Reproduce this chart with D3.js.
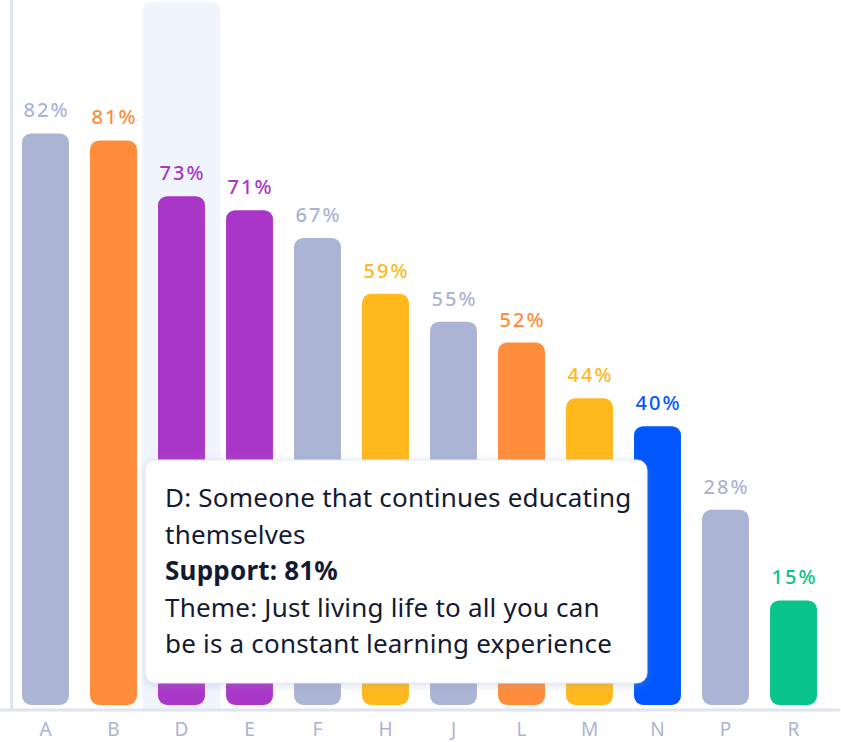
<!DOCTYPE html>
<html>
<head>
<meta charset="utf-8">
<script src="https://cdn.jsdelivr.net/npm/d3@7"></script>
<style>
  body { margin: 0; background: #fff; }
  svg { display: block; font-family: "Noto Sans", "Open Sans", sans-serif; }
</style>
</head>
<body>
<div id="chart"></div>
<script>
// categories, values and colour groups
const categories = ["A", "B", "D", "E", "F", "H", "J", "L", "M", "N", "P", "R"];
const values = [82, 81, 73, 71, 67, 59, 55, 52, 44, 40, 28, 15];
const groups = ["grey", "orange", "purple", "purple", "grey", "yellow", "grey", "orange", "yellow", "blue", "grey", "green"];
const highlighted = "D";
const tooltipLines = [
    { text: "D: Someone that continues educating", bold: false },
    { text: "themselves", bold: false },
    { text: "Support: 81%", bold: true },
    { text: "Theme: Just living life to all you can", bold: false },
    { text: "be is a constant learning experience", bold: false }
];

const data = categories.map((c, i) => ({ cat: c, value: values[i], group: groups[i] }));

const palette = {
    grey: "#abb4d4",
    orange: "#ff8c3b",
    purple: "#aa36c8",
    yellow: "#ffb91d",
    blue: "#0057ff",
    green: "#08c38b"
};

const w = 841;
const h = 742;
const baseY = 710;

const svg = d3.select("#chart")
    .append("svg")
    .attr("width", w)
    .attr("height", h);

// Scales
const x = d3.scaleBand()
    .domain(categories)
    .range([11.5, 827.5])
    .paddingInner(0.31)
    .paddingOuter(0.155);

const y = d3.scaleLinear()
    .domain([0, 100])
    .range([705, 8]);

// highlight column behind the hovered bar
const hx = x(highlighted) + x.bandwidth() / 2;
svg.append("path")
    .attr("d", () => {
        const x0 = hx - 39, x1 = hx + 39, y0 = 2, r = 10;
        return `M${x0},${baseY} V${y0 + r} Q${x0},${y0} ${x0 + r},${y0} H${x1 - r} Q${x1},${y0} ${x1},${y0 + r} V${baseY} Z`;
    })
    .attr("fill", "#f0f4fd");

// axis lines
svg.append("line")
    .attr("x1", 11.5).attr("x2", 11.5)
    .attr("y1", 0).attr("y2", baseY)
    .attr("stroke", "#dfe4f0")
    .attr("stroke-width", 3);

// Bars
svg.selectAll("rect.bar")
    .data(data)
    .enter()
    .append("rect")
    .attr("class", "bar")
    .attr("x", d => x(d.cat))
    .attr("y", d => y(d.value))
    .attr("width", x.bandwidth())
    .attr("height", d => y(0) - y(d.value))
    .attr("rx", 9)
    .attr("fill", d => palette[d.group]);

svg.append("line")
    .attr("x1", 0).attr("x2", 839)
    .attr("y1", baseY).attr("y2", baseY)
    .attr("stroke", "#dfe4f0")
    .attr("stroke-width", 3)
    .attr("stroke-linecap", "round");

// Value labels
svg.selectAll("text.val")
    .data(data)
    .enter()
    .append("text")
    .attr("class", "val")
    .attr("x", d => x(d.cat) + x.bandwidth() / 2 + 1)
    .attr("y", d => y(d.value) - 16)
    .attr("text-anchor", "middle")
    .style("font-size", "20px")
    .style("font-weight", "500")
    .style("letter-spacing", "2px")
    .style("fill", d => palette[d.group])
    .text(d => d.value + "%");

// X axis labels
const xAxis = svg.append("g")
    .attr("transform", `translate(0, ${baseY})`)
    .call(d3.axisBottom(x).tickSize(0).tickPadding(12));
xAxis.select(".domain").remove();
xAxis.selectAll("text")
    .attr("dy", "0.72em")
    .style("font-size", "19px")
    .style("font-family", "Noto Sans, sans-serif")
    .style("fill", "#abb4d4");

// Tooltip
const defs = svg.append("defs");
const f = defs.append("filter").attr("id", "shadow")
    .attr("x", "-10%").attr("y", "-10%").attr("width", "120%").attr("height", "130%");
f.append("feDropShadow")
    .attr("dx", 0).attr("dy", 2).attr("stdDeviation", 4)
    .attr("flood-color", "#8a96b8").attr("flood-opacity", 0.3);

const tip = svg.append("g")
    .attr("transform", `translate(${x(highlighted) - 13}, 460)`);
tip.append("rect")
    .attr("width", 502)
    .attr("height", 223)
    .attr("rx", 10)
    .attr("fill", "#fff")
    .attr("stroke", "#e6eaf3")
    .attr("filter", "url(#shadow)");

tip.selectAll("text")
    .data(tooltipLines)
    .enter()
    .append("text")
    .attr("x", 20)
    .attr("y", (d, i) => 47 + i * 36.5)
    .style("font-size", "26px")
    .style("letter-spacing", "0.2px")
    .style("font-weight", d => d.bold ? "700" : "400")
    .style("fill", "#141a33")
    .text(d => d.text);
</script>
</body>
</html>
